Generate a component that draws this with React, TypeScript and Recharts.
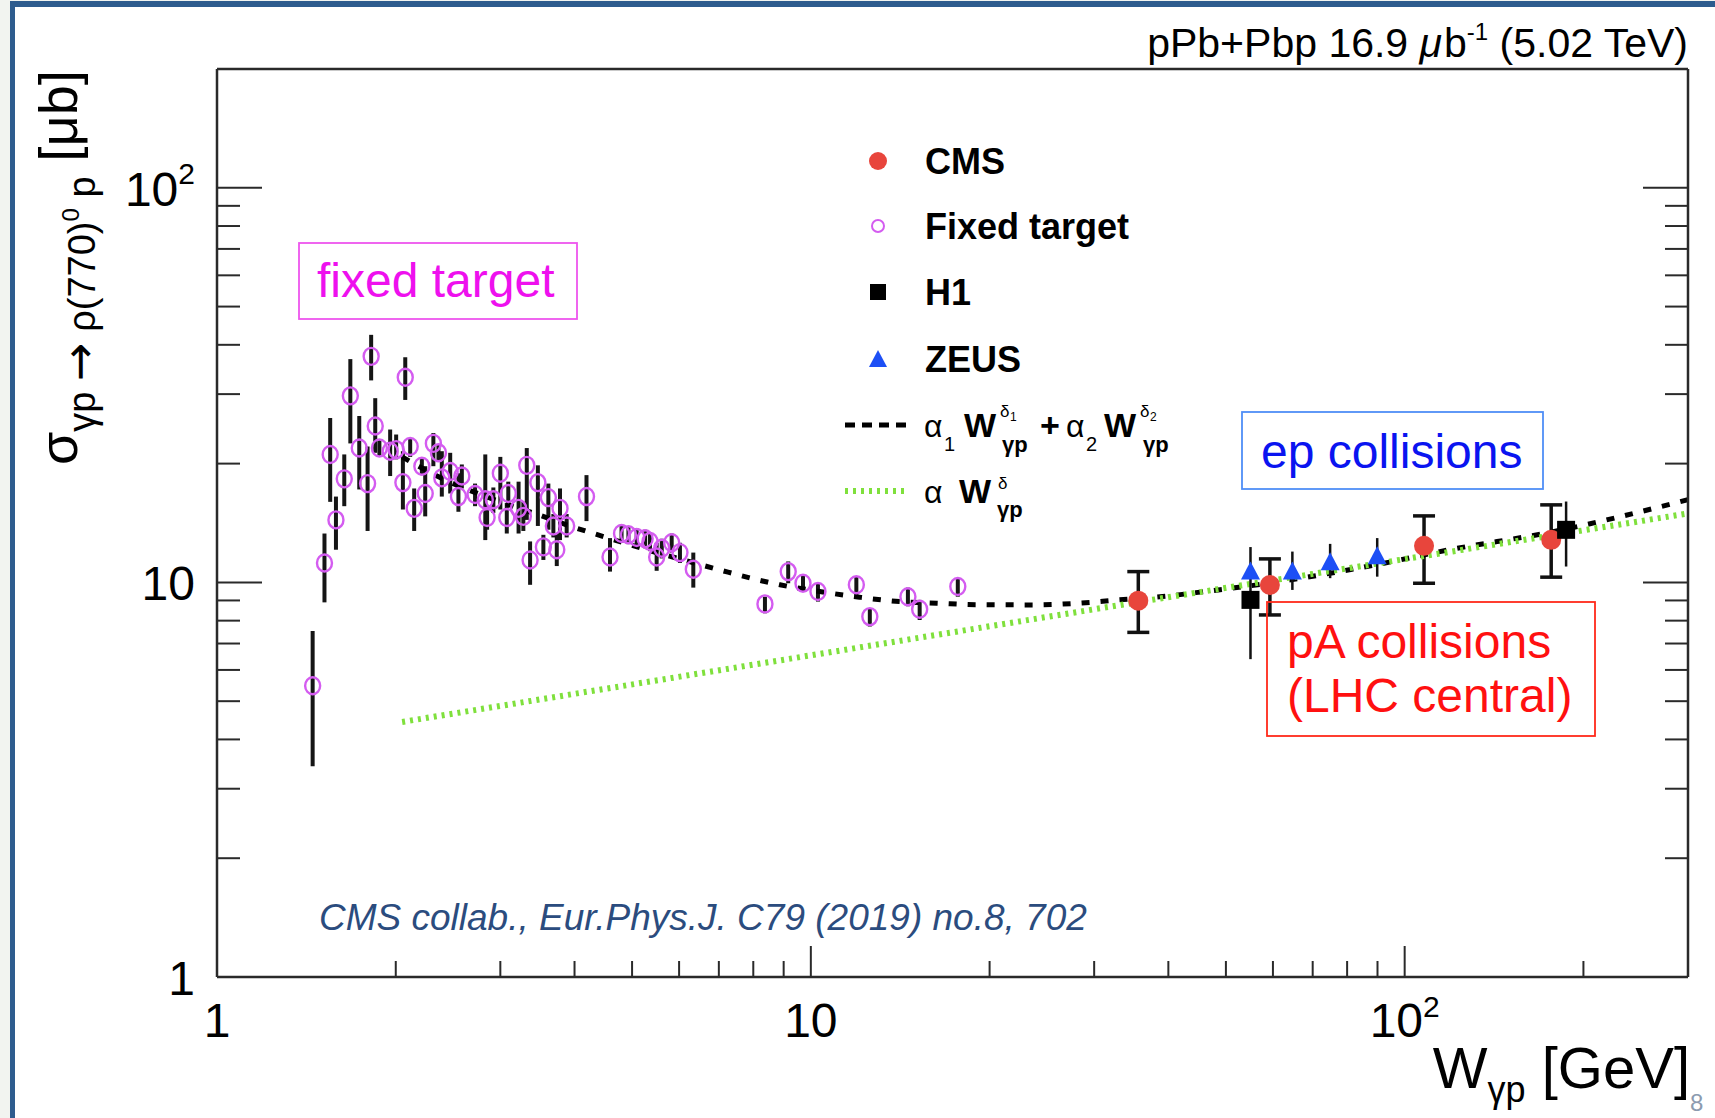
import { ComposedChart, Scatter, Line, XAxis, YAxis, ErrorBar, Legend } from "recharts";

const FONT = "'Liberation Sans', Arial, Helvetica, sans-serif";
const AXIS = "#2a2a2a";
const RED = "#e8453c";
const VIOLET = "#d45cf0";
const BLUE = "#1d4ff5";
const GREEN = "#7fe03c";

// [W_gp (GeV), sigma (ub), lower end of bar, upper end of bar]
type Pt = [number, number, number, number];

const cmsPoints: Pt[] = [
  [35.6, 8.99, 7.47, 10.65],
  [59.3, 9.85, 8.27, 11.47],
  [107.8, 12.38, 9.95, 14.74],
  [176.5, 12.82, 10.31, 15.72],
];

const h1Points: Pt[] = [
  [55.0, 9.03, 6.39, 12.29],
  [187, 13.59, 10.97, 16.03],
];

const zeusPoints: Pt[] = [
  [55.0, 10.6, 10.3, 10.9],
  [64.7, 10.6, 9.57, 11.97],
  [74.9, 11.19, 10.25, 12.52],
  [89.9, 11.58, 10.34, 12.95],
];

const fixedTargetPoints: Pt[] = [
  [1.449, 5.47, 3.42, 7.53],
  [1.517, 11.2, 8.9, 13.3],
  [1.551, 21.1, 16.0, 26.1],
  [1.586, 14.4, 12.1, 16.5],
  [1.638, 18.3, 15.6, 21.1],
  [1.677, 29.7, 22.5, 36.8],
  [1.736, 21.9, 17.2, 26.4],
  [1.793, 17.8, 13.5, 22.1],
  [1.818, 37.4, 32.5, 42.4],
  [1.847, 24.9, 21.3, 29.3],
  [1.877, 21.9, 20.8, 23.0],
  [1.957, 21.5, 18.6, 24.4],
  [2.003, 21.7, 20.5, 23.7],
  [2.056, 17.9, 15.3, 21.5],
  [2.075, 33.1, 29.0, 37.2],
  [2.115, 22.1, 20.8, 23.2],
  [2.148, 15.4, 13.5, 17.3],
  [2.213, 19.7, 18.7, 20.7],
  [2.242, 16.8, 14.7, 19.7],
  [2.314, 22.5, 19.7, 23.9],
  [2.36, 21.3, 20.2, 22.4],
  [2.391, 18.4, 16.5, 21.5],
  [2.47, 19.1, 16.8, 21.3],
  [2.55, 16.5, 15.1, 18.9],
  [2.584, 18.6, 17.3, 19.9],
  [2.72, 16.7, 15.6, 17.8],
  [2.83, 16.2, 12.8, 21.1],
  [2.85, 14.6, 13.6, 15.6],
  [2.92, 16.2, 15.0, 17.4],
  [3.0, 18.9, 15.3, 20.8],
  [3.076, 14.6, 13.3, 15.9],
  [3.094, 16.8, 15.6, 18.0],
  [3.22, 15.4, 13.3, 18.0],
  [3.28, 14.7, 13.5, 16.0],
  [3.324, 19.8, 14.4, 21.9],
  [3.367, 11.4, 9.86, 12.7],
  [3.47, 17.9, 13.9, 19.8],
  [3.545, 12.3, 11.4, 13.2],
  [3.614, 16.4, 13.6, 17.8],
  [3.685, 13.9, 13.0, 14.9],
  [3.734, 12.1, 11.0, 13.3],
  [3.781, 15.4, 12.8, 17.3],
  [3.88, 13.9, 13.0, 14.9],
  [4.19, 16.5, 14.3, 18.7],
  [4.59, 11.6, 10.65, 12.95],
  [4.8, 13.3, 12.6, 14.0],
  [4.93, 13.2, 12.5, 13.9],
  [5.09, 13.0, 12.3, 13.7],
  [5.26, 12.9, 12.2, 13.6],
  [5.36, 12.7, 12.0, 13.4],
  [5.5, 11.6, 10.7, 12.6],
  [5.61, 12.2, 11.5, 12.9],
  [5.83, 12.6, 11.9, 13.3],
  [6.02, 11.9, 11.2, 12.6],
  [6.34, 10.8, 9.7, 11.9],
  [8.37, 8.82, 8.35, 9.2],
  [9.16, 10.65, 9.95, 11.3],
  [9.7, 9.95, 9.5, 10.4],
  [10.28, 9.48, 8.94, 9.95],
  [11.93, 9.86, 9.27, 10.34],
  [12.57, 8.19, 7.73, 8.6],
  [14.57, 9.2, 8.7, 9.7],
  [15.25, 8.55, 8.03, 9.03],
  [17.68, 9.76, 9.2, 10.25],
];

// fit curves, [W, sigma] along each drawn line
const twoPowerFit: [number, number][] = [
  [2.05, 20.8], [2.4, 18.3], [2.9, 16.3], [3.45, 14.9], [3.93, 13.9],
  [4.56, 12.95], [5.29, 12.1], [6.1, 11.4], [7.03, 10.75], [8.87, 9.86],
  [10.35, 9.48], [12.08, 9.17], [14.1, 8.94], [16.3, 8.86], [19.0, 8.78],
  [24.0, 8.77], [28.3, 8.86], [33.0, 9.03], [39.6, 9.22], [44.5, 9.42],
  [59, 9.95], [90, 11.1], [119, 12.1], [176, 13.4], [300, 16.2],
];
const onePowerFit: [number, number][] = [
  [2.05, 4.43], [6.5, 5.88], [45.2, 9.45], [300, 14.95],
];

const xDomain = [1, 300];
const yDomain = [1, 200];
const xTicks = [1, 2, 3, 4, 5, 6, 7, 8, 9, 10, 20, 30, 40, 50, 60, 70, 80, 90, 100, 200, 300];
const yTicks = [1, 2, 3, 4, 5, 6, 7, 8, 9, 10, 20, 30, 40, 50, 60, 70, 80, 90, 100, 200];
const majorTicks = [1, 10, 100];

const toRows = (pts: Pt[]) => pts.map(([w, s, lo, hi]) => ({ w, s, err: [s - lo, hi - s] }));
const toCurve = (pts: [number, number][]) => pts.map(([w, s]) => ({ w, s }));

function tickText(v: number, supSize: number, supDy: number) {
  if (v === 100)
    return [
      <tspan key="b">10</tspan>,
      <tspan key="e" fontSize={supSize} dy={supDy}>2</tspan>,
    ];
  return String(v);
}

const isEdge = (v: number, d: number[]) => v === d[0] || v === d[1];

function BottomTick(p: any) {
  const v = p.payload.value;
  const major = majorTicks.includes(v);
  return (
    <g>
      {!isEdge(v, xDomain) && (
        <line x1={p.x} x2={p.x} y1={p.y} y2={p.y - (major ? 31 : 16)} stroke={AXIS} strokeWidth={2} />
      )}
      {major && (
        <text x={p.x} y={p.y + 60} textAnchor="middle" fontSize={48} fontFamily={FONT} fill="#000">
          {tickText(v, 30, -20)}
        </text>
      )}
    </g>
  );
}

function TopTick(p: any) {
  const v = p.payload.value;
  if (isEdge(v, xDomain)) return <g />;
  const major = majorTicks.includes(v);
  return <line x1={p.x} x2={p.x} y1={p.y} y2={p.y + (major ? 31 : 16)} stroke={AXIS} strokeWidth={2} />;
}

function LeftTick(p: any) {
  const v = p.payload.value;
  const major = majorTicks.includes(v);
  return (
    <g>
      {!isEdge(v, yDomain) && (
        <line x1={p.x} x2={p.x + (major ? 45 : 23)} y1={p.y} y2={p.y} stroke={AXIS} strokeWidth={2} />
      )}
      {major && (
        <text x={p.x - 22} y={p.y + 18} textAnchor="end" fontSize={48} fontFamily={FONT} fill="#000">
          {tickText(v, 30, -22)}
        </text>
      )}
    </g>
  );
}

function RightTick(p: any) {
  const v = p.payload.value;
  if (isEdge(v, yDomain)) return <g />;
  const major = majorTicks.includes(v);
  return <line x1={p.x} x2={p.x - (major ? 45 : 23)} y1={p.y} y2={p.y} stroke={AXIS} strokeWidth={2} />;
}

const OpenCircle = (p: any) => (
  <ellipse cx={p.cx} cy={p.cy} rx={7.5} ry={8.5} fill="none" stroke={VIOLET} strokeWidth={2.4} />
);
const RedDot = (p: any) => <circle cx={p.cx} cy={p.cy} r={10} fill={RED} />;
const BlackSquare = (p: any) => <rect x={p.cx - 9} y={p.cy - 9} width={18} height={18} fill="#000" />;
const BlueTriangle = (p: any) => (
  <polygon points={`${p.cx},${p.cy - 11} ${p.cx - 9.5},${p.cy + 7} ${p.cx + 9.5},${p.cy + 7}`} fill={BLUE} />
);

// legend drawn in page coordinates, shifted back by the wrapper offset
const LEG_X = 830;
const LEG_Y = 120;

function LegendBox() {
  const t = { fontFamily: FONT, fill: "#000" };
  return (
    <svg width={420} height={420} style={{ overflow: "visible" }}>
      <g transform={`translate(${-LEG_X} ${-LEG_Y})`}>
        <circle cx={878} cy={161} r={9} fill={RED} />
        <text x={925} y={174} fontSize={36} fontWeight="bold" {...t}>CMS</text>

        <circle cx={878} cy={226} r={6} fill="none" stroke={VIOLET} strokeWidth={2} />
        <text x={925} y={239} fontSize={36} fontWeight="bold" {...t}>Fixed target</text>

        <rect x={870} y={284} width={16} height={16} fill="#000" />
        <text x={925} y={305} fontSize={36} fontWeight="bold" {...t}>H1</text>

        <polygon points="878,350 869,367 887,367" fill={BLUE} />
        <text x={925} y={372} fontSize={36} fontWeight="bold" {...t}>ZEUS</text>

        <line x1={845} x2={913} y1={425} y2={425} stroke="#000" strokeWidth={5} strokeDasharray="10 7" />
        <text x={924} y={437} fontSize={32} {...t}>α</text>
        <text x={944} y={451} fontSize={20} {...t}>1</text>
        <text x={964} y={437} fontSize={34} fontWeight="bold" {...t}>W</text>
        <text x={1000} y={417} fontSize={17} {...t}>δ</text>
        <text x={1010} y={421} fontSize={12} {...t}>1</text>
        <text x={1002} y={452} fontSize={22} fontWeight="bold" {...t}>γp</text>
        <text x={1040} y={437} fontSize={34} fontWeight="bold" {...t}>+</text>
        <text x={1066} y={437} fontSize={32} {...t}>α</text>
        <text x={1086} y={451} fontSize={20} {...t}>2</text>
        <text x={1104} y={437} fontSize={34} fontWeight="bold" {...t}>W</text>
        <text x={1140} y={417} fontSize={17} {...t}>δ</text>
        <text x={1150} y={421} fontSize={12} {...t}>2</text>
        <text x={1143} y={452} fontSize={22} fontWeight="bold" {...t}>γp</text>

        <line x1={845} x2={908} y1={491} y2={491} stroke={GREEN} strokeWidth={6} strokeDasharray="3 5" />
        <text x={924} y={503} fontSize={32} {...t}>α</text>
        <text x={959} y={503} fontSize={34} fontWeight="bold" {...t}>W</text>
        <text x={998} y={489} fontSize={17} {...t}>δ</text>
        <text x={997} y={517} fontSize={22} fontWeight="bold" {...t}>γp</text>
      </g>
    </svg>
  );
}

function Annotations() {
  return (
    <svg
      width={1715}
      height={1118}
      style={{ position: "absolute", left: 0, top: 0, pointerEvents: "none" }}
      fontFamily={FONT}
    >
      <text x={1688} y={57} textAnchor="end" fontSize={41} fill="#000">
        pPb+Pbp 16.9 <tspan fontStyle="italic">μ</tspan>
        <tspan dx={2}>b</tspan>
        <tspan fontSize={24} dy={-17}>-1</tspan>
        <tspan dy={17}> (5.02 TeV)</tspan>
      </text>

      <text transform="translate(77 465) rotate(-90)" fontSize={54} fill="#000">
        σ
        <tspan fontSize={38} dy={18}>γp </tspan>
        <tspan fontSize={46} fontFamily="'DejaVu Sans', sans-serif">→</tspan>
        <tspan fontSize={38}> ρ(770)</tspan>
        <tspan fontSize={24} dy={-16}>0</tspan>
        <tspan fontSize={38} dy={16}> p</tspan>
        <tspan fontSize={54} dy={-18}> [μb]</tspan>
      </text>

      <text x={1690} y={1088} textAnchor="end" fontSize={58} fill="#000">
        W<tspan fontSize={36} dy={14}>γp</tspan>
        <tspan dy={-14}> [GeV]</tspan>
      </text>

      <rect x={299} y={243} width={278} height={76} fill="none" stroke="#ee55ee" strokeWidth={1.8} />
      <text x={317} y={297} fontSize={48} fill="#ee10ee">fixed target</text>

      <rect x={1242} y={412} width={301} height={77} fill="none" stroke="#4f8ef7" strokeWidth={1.8} />
      <text x={1261} y={468} fontSize={48} fill="#0a14f0">ep collisions</text>

      <rect x={1267} y={602} width={328} height={134} fill="none" stroke="#ff2a1a" strokeWidth={1.8} />
      <text x={1287} y={658} fontSize={48} fill="#ff1010">pA collisions</text>
      <text x={1287} y={712} fontSize={48} fill="#ff1010">(LHC central)</text>

      <text x={319} y={930} fontSize={37} fontStyle="italic" fill="#2b4c7e">
        CMS collab., Eur.Phys.J. C79 (2019) no.8, 702
      </text>

      <text x={1690} y={1111} fontSize={24} fill="#8c9bb0">8</text>
    </svg>
  );
}

export default function App() {
  const axisLine = { stroke: AXIS, strokeWidth: 2.5 };
  return (
    <div
      style={{
        position: "fixed",
        left: 0,
        top: 0,
        width: 1715,
        height: 1118,
        background: "#f2f4f0",
        overflow: "hidden",
      }}
    >
      <div
        style={{
          position: "absolute",
          left: 10,
          top: 1,
          right: 0,
          bottom: 0,
          background: "#fff",
          borderLeft: "5px solid #2e5c8e",
          borderTop: "6px solid #2e5c8e",
        }}
      />
      <div style={{ position: "absolute", left: 0, top: 0 }}>
        {/* axes are 1px thick so they render; margins below account for that */}
        <ComposedChart width={1715} height={1118} margin={{ top: 68, right: 26, bottom: 140, left: 216 }}>
          <XAxis
            dataKey="w"
            type="number"
            scale="log"
            domain={xDomain}
            allowDataOverflow
            ticks={xTicks}
            interval={0}
            height={1}
            tickSize={0}
            tickMargin={0}
            tickLine={false}
            axisLine={axisLine}
            tick={(p: any) => <BottomTick {...p} />}
          />
          <XAxis
            xAxisId="top"
            orientation="top"
            type="number"
            scale="log"
            domain={xDomain}
            allowDataOverflow
            ticks={xTicks}
            interval={0}
            height={1}
            tickSize={0}
            tickMargin={0}
            tickLine={false}
            axisLine={axisLine}
            tick={(p: any) => <TopTick {...p} />}
          />
          <YAxis
            dataKey="s"
            type="number"
            scale="log"
            domain={yDomain}
            allowDataOverflow
            ticks={yTicks}
            interval={0}
            width={1}
            tickSize={0}
            tickMargin={0}
            tickLine={false}
            axisLine={axisLine}
            tick={(p: any) => <LeftTick {...p} />}
          />
          <YAxis
            yAxisId="right"
            orientation="right"
            type="number"
            scale="log"
            domain={yDomain}
            allowDataOverflow
            ticks={yTicks}
            interval={0}
            width={1}
            tickSize={0}
            tickMargin={0}
            tickLine={false}
            axisLine={axisLine}
            tick={(p: any) => <RightTick {...p} />}
          />

          <Scatter data={toRows(fixedTargetPoints)} shape={OpenCircle} isAnimationActive={false}>
            <ErrorBar dataKey="err" direction="y" width={0} stroke="#151515" strokeWidth={4} isAnimationActive={false} />
          </Scatter>
          <Scatter data={toRows(cmsPoints)} shape={RedDot} isAnimationActive={false}>
            <ErrorBar dataKey="err" direction="y" width={11} stroke="#111" strokeWidth={3.5} isAnimationActive={false} />
          </Scatter>

          <Line
            data={toCurve(twoPowerFit)}
            dataKey="s"
            type="monotone"
            stroke="#000"
            strokeWidth={5}
            strokeDasharray="8 11"
            dot={false}
            activeDot={false}
            isAnimationActive={false}
          />
          <Line
            data={toCurve(onePowerFit)}
            dataKey="s"
            type="linear"
            stroke={GREEN}
            strokeWidth={6}
            strokeDasharray="3 5"
            dot={false}
            activeDot={false}
            isAnimationActive={false}
          />

          <Scatter data={toRows(h1Points)} shape={BlackSquare} isAnimationActive={false}>
            <ErrorBar dataKey="err" direction="y" width={0} stroke="#111" strokeWidth={2.5} isAnimationActive={false} />
          </Scatter>
          <Scatter data={toRows(zeusPoints)} shape={BlueTriangle} isAnimationActive={false}>
            <ErrorBar dataKey="err" direction="y" width={0} stroke="#111" strokeWidth={2.5} isAnimationActive={false} />
          </Scatter>

          <Legend
            layout="vertical"
            align="center"
            verticalAlign="middle"
            wrapperStyle={{ left: LEG_X, top: LEG_Y, width: 420, height: 420 }}
            content={() => <LegendBox />}
          />
        </ComposedChart>
      </div>
      <Annotations />
    </div>
  );
}
